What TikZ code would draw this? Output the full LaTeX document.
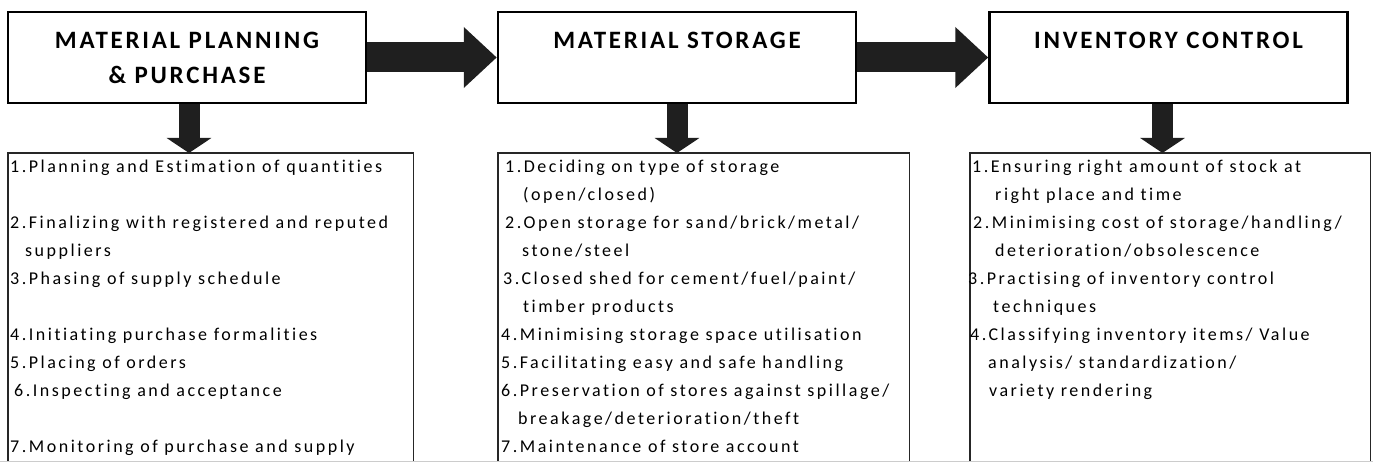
\documentclass[tikz,border=0pt]{standalone}
\usepackage{fontspec}
\setmainfont{Carlito}
\newfontfamily\headfont{Carlito}[LetterSpace=11, Ligatures=CommonOff]
\newfontfamily\itemfont{Carlito}[LetterSpace=14, Ligatures=CommonOff]
\usepackage{tikz}
\usetikzlibrary{arrows.meta,positioning,calc}

\begin{document}
\begin{tikzpicture}[x=1pt,y=-1pt]
		\tikzstyle{Head}	= [draw, line width=2.5pt, minimum width=358pt, minimum height=91pt, align=center, inner sep=0pt, font=\headfont\fontsize{25}{35}\selectfont\bfseries]
		\tikzstyle{List}	= [anchor=north west, minimum height=309pt, inner sep=0pt]
		\tikzstyle{Items}	= [anchor=north west, align=left, inner sep=0pt, font=\itemfont\fontsize{18}{28}\selectfont]
		\tikzstyle{Frame}	= [line width=1.4pt, black!85]
		\tikzstyle{Right}	= [line width=30pt, black!88, -{Triangle[length=33pt, width=59pt]}]
		\tikzstyle{Down}	= [line width=21pt, black!88, -{Triangle[length=15pt, width=44pt]}]

		\useasboundingbox (0,0) rectangle (1373,462);

		% the three stages
		\node (h1) at (187, 57.5) [Head] {MATERIAL PLANNING\\\& PURCHASE};
		\node (h2) at (677, 57.5) [Head] {MATERIAL STORAGE\\~};
		\node (h3) at (1168.5, 57.5) [Head] {INVENTORY CONTROL\\~};

		% frames of the lists
		\node (l1) at (8, 153) [List, minimum width=405pt] {};
		\node (l2) at (498, 153) [List, minimum width=411pt] {};
		\node (l3) at (970, 153) [List, minimum width=400pt] {};

		\draw [Frame] (l1.south west) |- (l1.north east) -- (l1.south east);
		\draw [Frame] (l2.south west) |- (l2.north east) -- (l2.south east);
		\draw [Frame] (l3.south west) |- (l3.north east) -- (l3.south east);

		\node (t1) at ($(l1.north west)+(2,7)$) [Items] {%
			1.Planning and Estimation of quantities\\[28pt]
			2.Finalizing with registered and reputed\\
			\hspace*{15pt}suppliers\\
			3.Phasing of supply schedule\\[28pt]
			4.Initiating purchase formalities\\
			5.Placing of orders\\
			\hspace*{4pt}6.Inspecting and acceptance\\[28pt]
			7.Monitoring of purchase and supply};
		\node (t2) at ($(l2.north west)+(3,7)$) [Items] {%
			\hspace*{4pt}1.Deciding on type of storage\\
			\hspace*{22pt}(open/closed)\\
			\hspace*{4pt}2.Open storage for sand/brick/metal/\\
			\hspace*{21pt}stone/steel\\
			\hspace*{2pt}3.Closed shed for cement/fuel/paint/\\
			\hspace*{22pt}timber products\\
			4.Minimising storage space utilisation\\
			5.Facilitating easy and safe handling\\
			6.Preservation of stores against spillage/\\
			\hspace*{17pt}breakage/deterioration/theft\\
			7.Maintenance of store account};
		\node (t3) at ($(l3.north west)+(-2,7)$) [Items] {%
			\hspace*{4pt}1.Ensuring right amount of stock at\\
			\hspace*{27pt}right place and time\\
			\hspace*{5pt}2.Minimising cost of storage/handling/\\
			\hspace*{27pt}deterioration/obsolescence\\
			3.Practising of inventory control\\
			\hspace*{25pt}techniques\\
			\hspace*{2pt}4.Classifying inventory items/ Value\\
			\hspace*{20pt}analysis/ standardization/\\
			\hspace*{21pt}variety rendering};

		% block arrows
		\draw [Right] (h1.east) -- (h2.west);
		\draw [Right] (h2.east) -- (h3.west);
		\draw [Down] ([xshift=2pt]h1.south) -- ([xshift=2pt]h1.south |- l1.north);
		\draw [Down] (h2.south) -- (h2.south |- l2.north);
		\draw [Down] ([xshift=-6pt]h3.south) -- ([xshift=-6pt]h3.south |- l3.north);

		\draw [black!20, line width=1pt] (0, 461.5) -- (1373, 461.5);
\end{tikzpicture}
\end{document}
